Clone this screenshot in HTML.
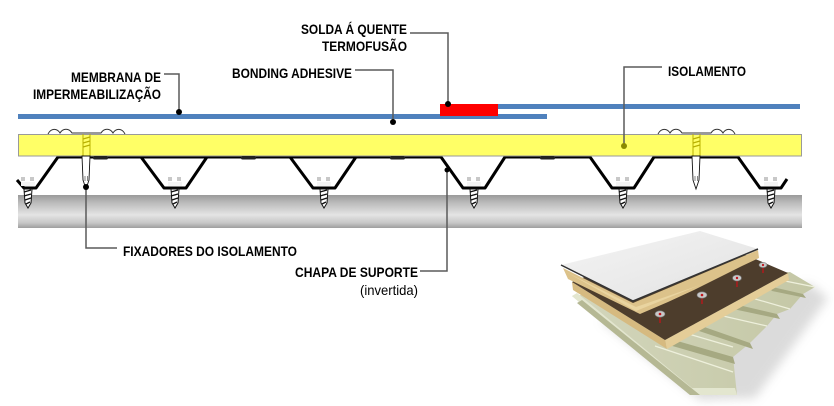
<!DOCTYPE html>
<html><head><meta charset="utf-8"><style>
html,body{margin:0;padding:0;background:#fff;}
svg{display:block;}
text{font-family:"Liberation Sans",Arial,sans-serif;font-size:14px;fill:#000;}
.b{font-weight:bold;}
</style></head><body>
<svg width="834" height="406" viewBox="0 0 834 406" xmlns="http://www.w3.org/2000/svg">
<defs>
<linearGradient id="pur" x1="0" y1="0" x2="0" y2="1">
<stop offset="0" stop-color="#9a9a9a"/><stop offset="0.25" stop-color="#bdbdbd"/><stop offset="0.6" stop-color="#e4e4e4"/><stop offset="0.85" stop-color="#c6c6c6"/><stop offset="1" stop-color="#9e9e9e"/>
</linearGradient>
<linearGradient id="wh" x1="0" y1="0" x2="1" y2="1">
<stop offset="0" stop-color="#f4f4f4"/><stop offset="1" stop-color="#e2e2e2"/>
</linearGradient>
<linearGradient id="dk" x1="0" y1="0" x2="1" y2="0">
<stop offset="0" stop-color="#d3d6bc"/><stop offset="1" stop-color="#c4c7a5"/>
</linearGradient>
<filter id="bl" x="-20%" y="-20%" width="140%" height="140%"><feGaussianBlur stdDeviation="5"/></filter>
<g id="vs">
<path d="M-6,177v4M-4,177v4M3,177v4M5,177v4" stroke="#777" stroke-width="0.8"/>
<rect x="-7" y="182" width="14" height="4" fill="#f4f4f4"/>
<path d="M-4,189 L4,189 L3,203 L0,208 L-3,203 Z" fill="#fff" stroke="#111" stroke-width="1"/>
<path d="M-4,192 L3,190 M-4,196 L3,194 M-3,200 L3,198 M-2,204 L2,202" stroke="#111" stroke-width="1.4"/>
</g>
<g id="fx">
<path d="M-38,134 C-35,128 -29,128 -26,133 C-23,128 -17,128 -14,133 L-6,133 L9,133 L15,133 C18,128 24,128 27,133 C30,128 36,128 39,134" fill="none" stroke="#333" stroke-width="1"/>
<path d="M-3,134 V156 M4,134 V156" stroke="#b8b000" stroke-width="1"/>
<path d="M-3,139 L4,137 M-3,143 L4,141 M-3,147 L4,145" stroke="#b8b000" stroke-width="1.2"/>
<path d="M-4,156 L4,156 L3,180 L0,189 L-3,180 Z" fill="#fff" stroke="#111" stroke-width="0.9"/>
<path d="M-1,176 v5 M1.5,176 v5" stroke="#666" stroke-width="0.8"/>
</g>
</defs>

<!-- purlin -->
<rect x="18" y="195" width="784" height="33" fill="url(#pur)"/>

<!-- deck profile -->
<path d="M17,180 L24,188 L36,188 L58,157 L441,157 L463,188 L485,188 L505,157 L590,157 L612,188 L634,188 L654,157 L738,157 L760,188 L781,188 L787,179
M58,157 L141,157 L164,188 L186,188 L207,157 L290,157 L313,188 L335,188 L356,157 L441,157" fill="none" stroke="#000" stroke-width="3" stroke-linejoin="round"/>

<!-- screws in valleys -->
<use href="#vs" x="28" y="0"/>
<use href="#vs" x="175" y="0"/>
<use href="#vs" x="324" y="0"/>
<use href="#vs" x="474" y="0"/>
<use href="#vs" x="623" y="0"/>
<use href="#vs" x="771" y="0"/>

<!-- insulation -->
<rect x="18.5" y="134.5" width="783" height="21.5" fill="#ffff66" stroke="#9a9a9a" stroke-width="1"/>
<!-- crest bars -->
<g fill="#222">
<rect x="93" y="156" width="15" height="3.5" rx="1.5"/>
<rect x="241" y="156" width="15" height="3.5" rx="1.5"/>
<rect x="390" y="156" width="15" height="3.5" rx="1.5"/>
<rect x="540" y="156" width="15" height="3.5" rx="1.5"/>
</g>

<!-- fasteners -->
<use href="#fx" x="86" y="0"/>
<use href="#fx" x="696" y="0"/>

<!-- membranes -->
<rect x="18" y="114" width="529" height="5" fill="#4f81bd"/>
<rect x="497" y="104" width="303" height="5" fill="#4f81bd"/>
<rect x="440" y="104" width="58" height="12" fill="#ff0000"/>

<!-- leader lines -->
<g fill="none" stroke="#5a5a5a" stroke-width="1.5">
<path d="M164,74 H179 V112"/>
<path d="M355,70 H393 V122"/>
<path d="M410,33 H448 V104"/>
<path d="M662,67 H624 V146"/>
<path d="M86,187 V248 H117"/>
<path d="M447,170 V271 H420"/>
</g>
<g fill="#000">
<circle cx="179" cy="112" r="3"/>
<circle cx="393" cy="122" r="3"/>
<circle cx="448" cy="104" r="3"/>
<circle cx="86" cy="187" r="3"/>
<circle cx="447" cy="170" r="2.5"/>
</g>
<circle cx="624" cy="146" r="3" fill="#8a8a00"/>

<!-- labels -->
<text class="b" x="71" y="82" textLength="90" lengthAdjust="spacingAndGlyphs">MEMBRANA DE</text>
<text class="b" x="33" y="99" textLength="128" lengthAdjust="spacingAndGlyphs">IMPERMEABILIZAÇÃO</text>
<text class="b" x="232" y="78" textLength="120" lengthAdjust="spacingAndGlyphs">BONDING ADHESIVE</text>
<text class="b" x="301" y="34" textLength="106" lengthAdjust="spacingAndGlyphs">SOLDA Á QUENTE</text>
<text class="b" x="322" y="51" textLength="85" lengthAdjust="spacingAndGlyphs">TERMOFUSÃO</text>
<text class="b" x="668" y="76" textLength="78" lengthAdjust="spacingAndGlyphs">ISOLAMENTO</text>
<text class="b" x="123" y="256" textLength="174" lengthAdjust="spacingAndGlyphs">FIXADORES DO ISOLAMENTO</text>
<text class="b" x="295" y="277" textLength="123" lengthAdjust="spacingAndGlyphs">CHAPA DE SUPORTE</text>
<text x="360" y="295" textLength="58" lengthAdjust="spacingAndGlyphs">(invertida)</text>

<!-- 3D illustration -->
<polygon points="600,320 700,400 755,398 828,298 810,284" fill="#9a9a9a" opacity="0.35" filter="url(#bl)"/>
<polygon points="572,296 690,395 737,395 733,357 750,343 767,326 777,314 790,309 803,294 815,287 790,272" fill="url(#dk)"/>
<polygon points="572,296 690,395 737,395 735,388 692,388 577,293" fill="#e3e6cf"/>
<polygon points="577,303 690,395 700,395 582,300" fill="#b5b894"/>
<!-- rib shading -->
<g fill="#a6a982">
<polygon points="768,286 803,294 806,298 772,291"/>
<polygon points="730,303 777,314 780,319 733,309"/>
<polygon points="690,322 750,343 753,349 693,329"/>
<polygon points="660,336 733,357 735,364 662,343"/>
</g>
<g stroke="#eef0dc" stroke-width="1.2" fill="none">
<path d="M745,296 L790,309"/>
<path d="M710,313 L767,326"/>
<path d="M675,330 L733,347"/>
<path d="M655,346 L733,372"/>
<path d="M780,280 L815,287"/>
</g>
<!-- insulation 3D -->
<polygon points="572,282 665,340 667,349 573,290" fill="#d6ba80"/>
<polygon points="665,340 788,273 789,280 667,349" fill="#e4cd98"/>
<polygon points="572,282 665,340 788,273 725,246 640,255" fill="#4d3d2c"/>
<!-- tan layer -->
<path d="M563,268 L633,303 L758,250 L759,258 L742,266 L726,274 L712,281 L694,290 L668,302 L640,314 L568,279 Z" fill="#dcc28a"/>
<path d="M566,272 L636,307 L700,285 L636,311 Z" fill="#eedcaa" opacity="0.7"/>
<!-- white sheet -->
<polygon points="561,265 700,231 758,249 633,301" fill="url(#wh)"/>
<polyline points="561,265 633,301 758,249" fill="none" stroke="#333" stroke-width="1.5"/>
<!-- fasteners 3D -->
<g>
<path d="M660,315 v8 M702,296 v8 M737,279 v8 M763,266 v7" stroke="#c0141a" stroke-width="1.3"/>
<ellipse cx="660" cy="314" rx="5" ry="3.2" fill="#c8c8c8" stroke="#777" stroke-width="0.6"/>
<ellipse cx="702" cy="295" rx="5" ry="3.2" fill="#c8c8c8" stroke="#777" stroke-width="0.6"/>
<ellipse cx="737" cy="278" rx="4.5" ry="3" fill="#c8c8c8" stroke="#777" stroke-width="0.6"/>
<ellipse cx="763" cy="265" rx="4" ry="2.6" fill="#c8c8c8" stroke="#777" stroke-width="0.6"/>
<circle cx="660" cy="314" r="1.3" fill="#c0141a"/>
<circle cx="702" cy="295" r="1.3" fill="#c0141a"/>
<circle cx="737" cy="278" r="1.2" fill="#c0141a"/>
<circle cx="763" cy="265" r="1.1" fill="#c0141a"/>
</g>
</svg>
</body></html>
